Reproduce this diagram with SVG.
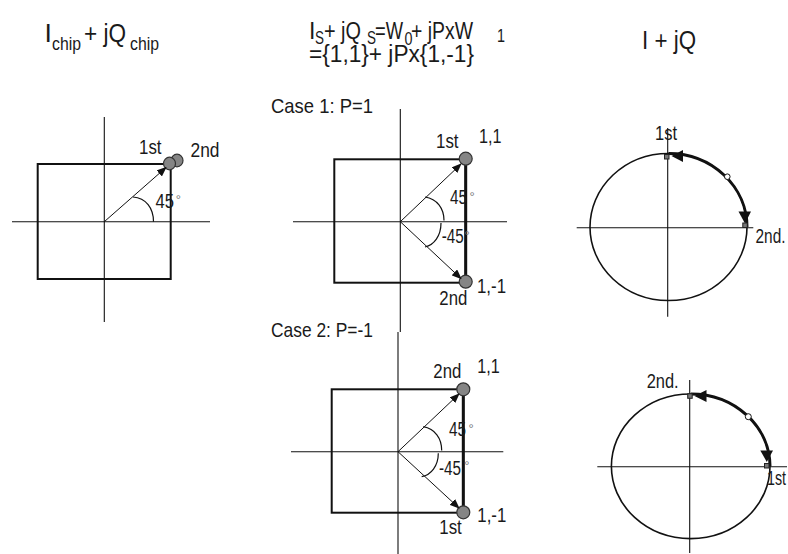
<svg xmlns="http://www.w3.org/2000/svg" width="788" height="554" viewBox="0 0 788 554">
<defs>
<marker id="ah" markerWidth="10" markerHeight="8" refX="9" refY="4" orient="auto" markerUnits="userSpaceOnUse"><path d="M0,0 L10,4 L0,8 z" fill="#111"/></marker>
<style>
text{font-family:"Liberation Sans",Arial,sans-serif;fill:#1a1a1a}
.h{font-size:26.5px}
.h3{font-size:25px}
.sub{font-size:19px}
.h2{font-size:23px}
.lb{font-size:19.5px}
.cs{font-size:21px}
.deg{font-size:13px;fill:#777}
.ax{stroke:#111;stroke-width:1.1;fill:none}
.sq{stroke:#111;stroke-width:2;fill:none}
.thick{stroke:#111;stroke-width:3;fill:none}
.arr{stroke:#111;stroke-width:1;fill:none;marker-end:url(#ah)}
.ang{stroke:#111;stroke-width:1.2;fill:none}
.dot{fill:#858585;stroke:#333;stroke-width:1.2}
.ring{stroke:#111;stroke-width:1.6;fill:none}
.path{stroke:#111;stroke-width:3;fill:none}
.head{fill:#111}
.oc{fill:#fff;stroke:#111;stroke-width:1}
.mk{fill:#777;stroke:#222;stroke-width:1}
</style>
</defs>
<rect width="788" height="554" fill="#fff"/>

<g id="titles">
<text class="h" x="44.5" y="42">I</text>
<text class="sub" x="52" y="50" textLength="29" lengthAdjust="spacingAndGlyphs">chip</text>
<text class="h" x="84" y="42" textLength="42" lengthAdjust="spacingAndGlyphs">+ jQ</text>
<text class="sub" x="130" y="50" textLength="29" lengthAdjust="spacingAndGlyphs">chip</text>

<text class="h2" x="309" y="39">I</text>
<text class="sub" x="315" y="44" textLength="9" lengthAdjust="spacingAndGlyphs">S</text>
<text class="h2" x="324" y="39" textLength="37" lengthAdjust="spacingAndGlyphs">+ jQ</text>
<text class="sub" x="367" y="44" textLength="9" lengthAdjust="spacingAndGlyphs">S</text>
<text class="h2" x="375" y="39" textLength="28" lengthAdjust="spacingAndGlyphs">=W</text>
<text class="sub" x="404.5" y="45" textLength="8" lengthAdjust="spacingAndGlyphs">0</text>
<text class="h2" x="411" y="39" textLength="62" lengthAdjust="spacingAndGlyphs">+ jPxW</text>
<text class="sub" x="497" y="42" textLength="8" lengthAdjust="spacingAndGlyphs">1</text>
<text class="h2" x="309" y="62" textLength="165" lengthAdjust="spacingAndGlyphs">={1,1}+  jPx{1,-1}</text>

<text class="h3" x="642" y="49" textLength="54" lengthAdjust="spacingAndGlyphs">I + jQ</text>
</g>

<g id="chip-diagram">
<line class="ax" x1="104.3" y1="117" x2="104.3" y2="322"/>
<line class="ax" x1="12" y1="221.7" x2="210" y2="221.7"/>
<rect class="sq" x="37.7" y="164" width="133" height="115"/>
<path class="ang" d="M133,197 C146,198 153.5,208 153.5,221.7"/>
<text class="lb" x="155.5" y="207.7" textLength="18.5" lengthAdjust="spacingAndGlyphs">45</text>
<text class="deg" x="175.8" y="204">°</text>
<ellipse class="dot" cx="177" cy="160.5" rx="6" ry="6.3"/>
<ellipse class="dot" cx="169.5" cy="163.5" rx="6" ry="6.3"/>
<text class="lb" x="139" y="154" textLength="22.5" lengthAdjust="spacingAndGlyphs">1st</text>
<text class="lb" x="190.5" y="157" textLength="29" lengthAdjust="spacingAndGlyphs">2nd</text>
</g>

<g id="case1-diagram">
<text class="cs" x="271" y="113" textLength="102" lengthAdjust="spacingAndGlyphs">Case 1: P=1</text>
<line class="ax" x1="400.3" y1="109" x2="400.3" y2="332"/>
<line class="ax" x1="293" y1="221.7" x2="507" y2="221.7"/>
<rect class="sq" x="334.3" y="159.3" width="131.4" height="123.4"/>
<line class="thick" x1="465.7" y1="159.3" x2="465.7" y2="282.7"/>
<path class="ang" d="M425,197 C437,199 444,208 444,220.5"/>
<path class="ang" d="M441,223 C441,236 434,245 425,247"/>
<text class="lb" x="450" y="204" textLength="17" lengthAdjust="spacingAndGlyphs">45</text>
<text class="deg" x="469.5" y="201">°</text>
<text class="lb" x="441.7" y="243.3" textLength="22" lengthAdjust="spacingAndGlyphs">-45</text>
<text class="deg" x="464.5" y="240">°</text>
<circle class="dot" cx="465.7" cy="158.7" r="6.5"/>
<circle class="dot" cx="465.7" cy="281.7" r="6.5"/>
<text class="lb" x="436" y="148" textLength="22.5" lengthAdjust="spacingAndGlyphs">1st</text>
<text class="lb" x="479" y="143.3" textLength="22.5" lengthAdjust="spacingAndGlyphs">1,1</text>
<text class="lb" x="439.3" y="305" textLength="28" lengthAdjust="spacingAndGlyphs">2nd</text>
<text class="lb" x="477" y="293.3" textLength="29" lengthAdjust="spacingAndGlyphs">1,-1</text>
</g>

<g id="case2-diagram">
<text class="cs" x="271" y="337" textLength="102" lengthAdjust="spacingAndGlyphs">Case 2: P=-1</text>
<line class="ax" x1="398" y1="332" x2="398" y2="554"/>
<line class="ax" x1="291" y1="451.7" x2="503.3" y2="451.7"/>
<rect class="sq" x="331.7" y="389.3" width="131.6" height="123.4"/>
<line class="thick" x1="463.3" y1="389.3" x2="463.3" y2="512.7"/>
<path class="ang" d="M423.3,426.7 C435,429 441.7,438 441.7,450.5"/>
<path class="ang" d="M438.3,453.3 C438.3,466 431,475 421.7,476.7"/>
<text class="lb" x="449" y="436" textLength="17" lengthAdjust="spacingAndGlyphs">45</text>
<text class="deg" x="468.5" y="432.7">°</text>
<text class="lb" x="439" y="475" textLength="22" lengthAdjust="spacingAndGlyphs">-45</text>
<text class="deg" x="464.2" y="470">°</text>
<circle class="dot" cx="463.3" cy="389.3" r="6.5"/>
<circle class="dot" cx="463.3" cy="512.3" r="6.5"/>
<text class="lb" x="433.3" y="378.3" textLength="28" lengthAdjust="spacingAndGlyphs">2nd</text>
<text class="lb" x="477.3" y="373.3" textLength="22.5" lengthAdjust="spacingAndGlyphs">1,1</text>
<text class="lb" x="439.3" y="534" textLength="22.5" lengthAdjust="spacingAndGlyphs">1st</text>
<text class="lb" x="477.3" y="521.7" textLength="29" lengthAdjust="spacingAndGlyphs">1,-1</text>
</g>

<g id="iq-case1">
<line class="ax" x1="576.7" y1="227.7" x2="753.3" y2="227.7"/>
<line class="ax" x1="667.7" y1="128" x2="667.7" y2="316.7"/>
<ellipse class="ring" cx="668.5" cy="227" rx="78.5" ry="73.5"/>
<path class="path" d="M668.5,153.5 A78.5,73.5 0 0 1 747,227"/>
<polygon class="head" points="671.5,156 683,150 683,162"/>
<polygon class="head" points="745,223.5 738.5,211.5 751,211.5"/>
<circle class="oc" cx="727.3" cy="176.7" r="2.8"/>
<rect class="mk" x="664.5" y="154.5" width="4.5" height="4.5"/>
<rect class="mk" x="742.8" y="223" width="4.5" height="4.5"/>
<text class="lb" x="655" y="140" textLength="22" lengthAdjust="spacingAndGlyphs">1st</text>
<text class="lb" x="755.5" y="243.3" textLength="30" lengthAdjust="spacingAndGlyphs">2nd.</text>
</g>

<g id="iq-case2">
<line class="ax" x1="597.3" y1="466.7" x2="787" y2="466.7"/>
<line class="ax" x1="689.7" y1="380" x2="689.7" y2="553"/>
<ellipse class="ring" cx="690.7" cy="466.3" rx="79.3" ry="72.3"/>
<path class="path" d="M690.7,394 A79.3,72.3 0 0 1 770,466.3"/>
<polygon class="head" points="694.5,396 706.5,390 706.5,402"/>
<polygon class="head" points="766.8,462 760.3,450.5 773,450.5"/>
<circle class="oc" cx="748.3" cy="416.7" r="3"/>
<rect class="mk" x="687.7" y="393.8" width="4.5" height="4.5"/>
<rect class="mk" x="764.5" y="463.5" width="4.5" height="4.5"/>
<text class="lb" x="646.7" y="388.3" textLength="32" lengthAdjust="spacingAndGlyphs">2nd.</text>
<text class="lb" x="767" y="485" textLength="19" lengthAdjust="spacingAndGlyphs">1st</text>
</g>

<g id="connectors">
<line class="arr" x1="104.3" y1="221.7" x2="166" y2="167.5"/>
<line class="arr" x1="400.3" y1="221.7" x2="461" y2="164"/>
<line class="arr" x1="400.3" y1="221.7" x2="461" y2="278.5"/>
<line class="arr" x1="398" y1="451.7" x2="459" y2="394"/>
<line class="arr" x1="398" y1="451.7" x2="459" y2="508"/>
</g>
</svg>
